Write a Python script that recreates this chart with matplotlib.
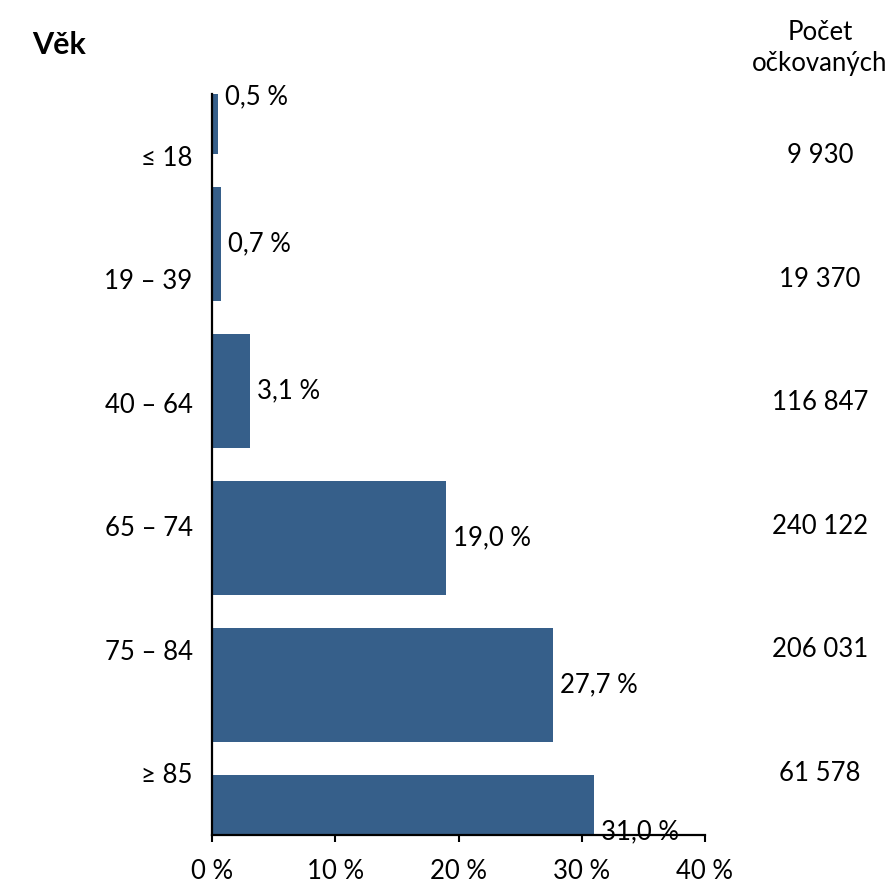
import matplotlib
matplotlib.use('Agg')

import matplotlib.pyplot as plt
import matplotlib.transforms as mtransforms
import numpy as np

plt.rcParams['font.family'] = ['Lato', 'DejaVu Sans']

# data
age_groups = ['≤ 18', '19 – 39', '40 – 64', '65 – 74', '75 – 84', '≥ 85']
share_pct = [0.5, 0.7, 3.1, 19.0, 27.7, 31.0]
vaccinated = [9930, 19370, 116847, 240122, 206031, 61578]
x_ticks = [0, 10, 20, 30, 40]

BAR_COLOR = '#365F8A'
FS = 18.5


def fmt_count(n):
    return f'{n:,}'.replace(',', ' ')


fig = plt.figure(figsize=(8.94, 8.82), dpi=100)
ax = fig.add_axes([212 / 894, 1 - 835 / 882, (705 - 212) / 894, (835 - 94) / 882])

pos = np.arange(len(age_groups))
ax.barh(pos, share_pct, height=0.77, color=BAR_COLOR, zorder=2)

# osa y je posunutá - sloupce sedí na okrajích, popisky na středech pásem
y0, y1 = -0.02, 5.02
ax.set_ylim(y1, y0)
ax.set_xlim(0, 40)
n = len(age_groups)
label_pos = [y0 + (i + 0.5) * (y1 - y0) / n for i in range(n)]

ax.set_yticks(label_pos)
ax.set_yticklabels(age_groups, fontsize=FS)
ax.tick_params(axis='y', length=0, pad=14)

ax.set_xticks(x_ticks)
ax.set_xticklabels([f'{t} %' for t in x_ticks], fontsize=FS)
ax.tick_params(axis='x', direction='out', length=5, width=1.5, pad=12)

for side in ['top', 'right']:
    ax.spines[side].set_visible(False)
for side in ['left', 'bottom']:
    ax.spines[side].set_linewidth(1.6)
    ax.spines[side].set_color('black')

# popisky hodnot
for p, v in zip(pos, share_pct):
    ax.annotate(f'{v:.1f} %'.replace('.', ','), xy=(v, p), xytext=(5, 0),
                textcoords='offset points', ha='left', va='center',
                fontsize=FS, annotation_clip=False)

# počty očkovaných vpravo
trans = mtransforms.blended_transform_factory(fig.transFigure, ax.transData)
for yp, c in zip(label_pos, vaccinated):
    ax.text(820 / 894, yp, fmt_count(c), transform=trans, ha='center',
            va='center', fontsize=FS)

fig.text(820 / 894, 1 - 48 / 882, 'Počet\nočkovaných', ha='center', va='center',
         fontsize=FS, linespacing=1.35)
fig.text(32 / 894, 1 - 45 / 882, 'Věk', ha='left', va='center',
         fontsize=22, fontweight='bold')

fig.savefig('out.png', dpi=100)
plt.close(fig)
